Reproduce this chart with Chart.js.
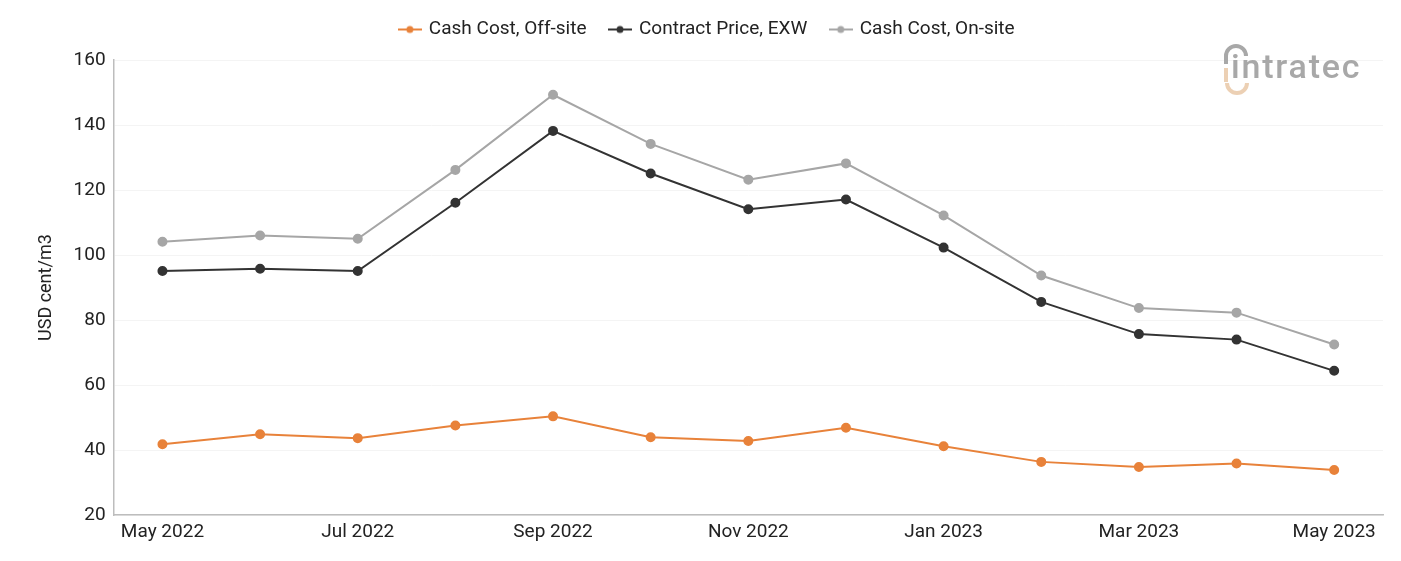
<!DOCTYPE html>
<html lang="en">
<head>
  <meta charset="UTF-8" />
  <title>Cash Cost vs Contract Price</title>
  <script src="https://cdn.jsdelivr.net/npm/chart.js"></script>
  <style>
    html, body { margin:0; padding:0; background:#fff; }
    .wrap { width:1401px; height:561px; }
  </style>
</head>
<body>
  <div class="wrap"><canvas id="chart"></canvas></div>
  <script>
    // data
    const months = ['May 2022','Jun 2022','Jul 2022','Aug 2022','Sep 2022','Oct 2022','Nov 2022',
                    'Dec 2022','Jan 2023','Feb 2023','Mar 2023','Apr 2023','May 2023'];
    const cashCostOffsite = [41.8, 44.9, 43.7, 47.6, 50.4, 44.0, 42.8, 46.9, 41.2, 36.4, 34.8, 35.9, 33.9];
    const contractPriceExw = [95.1, 95.8, 95.1, 116.1, 138.2, 125.1, 114.1, 117.1, 102.3, 85.6, 75.7, 74.0, 64.4];
    const cashCostOnsite = [104.1, 106.0, 105.0, 126.2, 149.3, 134.2, 123.2, 128.2, 112.2, 93.7, 83.7, 82.3, 72.5];
    const yTicks = [20, 40, 60, 80, 100, 120, 140, 160];

    const orange = '#e8823a', dark = '#333333', grey = '#a6a6a6';
    Chart.defaults.font.family = 'Roboto, "Noto Sans", Arial, sans-serif';
    Chart.defaults.color = '#222';

    function legendIcon(color) {
      const c = document.createElement('canvas');
      c.width = 24; c.height = 10;
      const g = c.getContext('2d');
      g.strokeStyle = color; g.lineWidth = 2;
      g.beginPath(); g.moveTo(0, 5); g.lineTo(24, 5); g.stroke();
      g.fillStyle = color;
      g.beginPath(); g.arc(12, 5, 3.5, 0, Math.PI*2); g.fill();
      return c;
    }

    // extra room between legend and plot
    const legendGap = {
      id: 'legendGap',
      beforeInit(chart) {
        const fit = chart.legend.fit;
        chart.legend.fit = function() { fit.bind(chart.legend)(); this.height += 11; };
      }
    };

    const logo = {
      id: 'logo',
      afterDraw(chart) {
        const ctx = chart.ctx;
        ctx.save();
        ctx.lineWidth = 4;
        ctx.strokeStyle = '#a8a8a8';
        ctx.beginPath(); ctx.arc(1236, 56, 10, Math.PI, Math.PI*2); ctx.stroke();
        ctx.beginPath(); ctx.moveTo(1226, 56); ctx.lineTo(1226, 64); ctx.stroke();
        ctx.strokeStyle = '#ecd0b4';
        ctx.beginPath(); ctx.moveTo(1226, 68); ctx.lineTo(1226, 82); ctx.stroke();
        ctx.beginPath(); ctx.arc(1237, 83, 10, 0, Math.PI); ctx.stroke();
        ctx.fillStyle = '#a8a8a8';
        ctx.font = '500 34px Roboto, sans-serif';
        ctx.letterSpacing = '1.8px';
        ctx.textBaseline = 'alphabetic';
        ctx.fillText('intratec', 1231, 78);
        ctx.restore();
      }
    };

    new Chart(document.getElementById('chart'), {
      type: 'line',
      data: {
        labels: months,
        datasets: [
          {label:'Cash Cost, Off-site', data:cashCostOffsite, borderColor:orange, backgroundColor:orange},
          {label:'Contract Price, EXW', data:contractPriceExw, borderColor:dark, backgroundColor:dark},
          {label:'Cash Cost, On-site', data:cashCostOnsite, borderColor:grey, backgroundColor:grey}
        ].map(d => Object.assign(d, {borderWidth:2, pointRadius:4, pointHoverRadius:4, tension:0, fill:false}))
      },
      options: {
        responsive: true, maintainAspectRatio: false, animation: false,
        layout: { padding: { left: 32, right: 18, top: -4, bottom: 11 } },
        plugins: {
          tooltip: { enabled: false },
          legend: {
            position: 'top',
            labels: {
              usePointStyle: true, padding: 24, font: { size: 19 },
              generateLabels(chart) {
                return chart.data.datasets.map((d, i) => ({
                  text: d.label, pointStyle: legendIcon(d.borderColor),
                  fillStyle: d.borderColor, strokeStyle: d.borderColor,
                  fontColor: '#222', lineWidth: 0, datasetIndex: i, hidden: false
                }));
              }
            }
          }
        },
        scales: {
          x: {
            offset: true,
            grid: { display: false, drawTicks: false },
            border: { display: true, color: '#bdbdbd', width: 1.5 },
            ticks: {
              autoSkip: false, maxRotation: 0, padding: 6, font: { size: 19 }, color: '#222',
              callback(v, i) { return i % 2 === 0 ? months[i] : ''; }
            }
          },
          y: {
            min: yTicks[0], max: yTicks[yTicks.length-1],
            afterBuildTicks(axis) { axis.ticks = yTicks.map(v => ({ value: v })); },
            grid: { color: '#f4f4f4', drawTicks: false },
            border: { display: true, color: '#bdbdbd', width: 1.5 },
            ticks: { padding: 8, font: { size: 19 }, color: '#222' },
            title: { display: true, text: 'USD cent/m3', font: { size: 18 }, color: '#222', padding: { bottom: 8 } }
          }
        }
      },
      plugins: [legendGap, logo]
    });
  </script>
</body>
</html>
